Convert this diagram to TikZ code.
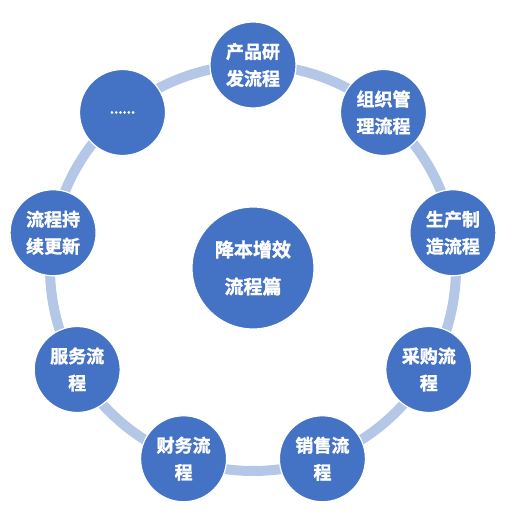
\documentclass[tikz,border=0pt]{standalone}
\usepackage{fontspec}
\newfontfamily\cjk{Noto Sans CJK SC Bold}[FakeBold=1.6]
\usetikzlibrary{positioning}
\definecolor{ringblue}{HTML}{B4C7E7}
\definecolor{nodeblue}{HTML}{4472C4}

\begin{document}
\begin{tikzpicture}[x=1pt, y=1pt,
    proc/.style={circle, fill=nodeblue, draw=white, line width=1.2pt, minimum size=86pt, inner sep=0pt, text=white, align=center, font=\cjk\fontsize{18}{27}\selectfont},
    core/.style={proc, minimum size=122pt, font=\cjk\fontsize{19}{27}\selectfont}]
				\useasboundingbox (-253,-261) rectangle (260,268);
				\draw[ringblue, line width=10pt] (0,0) circle (203);

				\node[core] (center) at (0,0) {降本增效\\[10pt]流程篇};

				\node[proc] (rd) at (90:203) {产品研\\发流程};
				\node[proc] (org) at (50:203) {组织管\\理流程};
				\node[proc] (make) at (10:203) {生产制\\造流程};
				\node[proc] (buy) at (-30:203) {采购流\\程};
				\node[proc] (sale) at (-70:203) {销售流\\程};
				\node[proc] (fin) at (-110:203) {财务流\\程};
				\node[proc] (serv) at (-150:203) {服务流\\程};
				\node[proc] (upd) at (170:203) {流程持\\续更新};
				\node[proc, font=\cjk\fontsize{13}{14}\selectfont] (more) at (130:203) {......};

			\end{tikzpicture}
\end{document}
